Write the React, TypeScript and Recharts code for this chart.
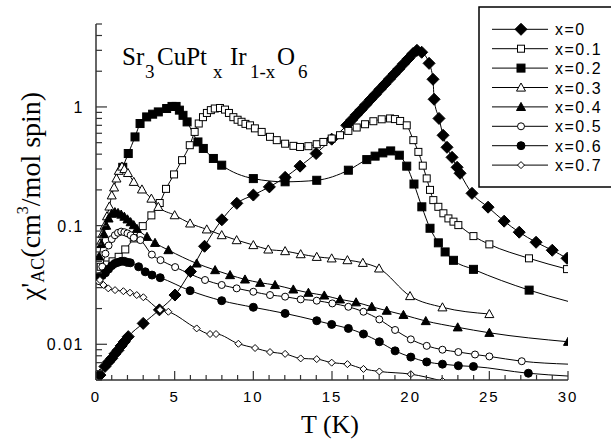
import React from "react";
import { LineChart, Line, XAxis, YAxis } from "recharts";

const W = 611;
const H = 445;
const PLOT = { left: 96, right: 568, top: 24, bottom: 380 };
const AXIS = "#333";
const SANS = "'Liberation Sans', Arial, sans-serif";
const SERIF = "'Liberation Serif', 'Times New Roman', serif";

// x = 0
const t0 = [0.25, 0.57, 0.8, 1.0, 1.2, 1.4, 1.6, 1.8, 2.05, 3.0, 4.03, 5.02, 6.0, 6.9, 8.0, 8.95, 10.0, 11.02, 12.02, 12.97, 13.99, 14.98, 15.94, 16.25, 16.55, 16.85, 17.15, 17.45, 17.75, 18.05, 18.35, 18.65, 18.95, 19.25, 19.55, 19.85, 20.15, 20.4, 20.7, 21.17, 21.42, 21.49, 21.8, 22.06, 22.31, 22.63, 22.95, 23.14, 23.9, 24.92, 25.94, 26.9, 27.97, 29.0, 29.94];
const chi0 = [0.0055, 0.0065, 0.0071, 0.0076, 0.0083, 0.0089, 0.0097, 0.0105, 0.0116, 0.015, 0.0195, 0.026, 0.041, 0.067, 0.112, 0.154, 0.181, 0.212, 0.255, 0.317, 0.405, 0.535, 0.70, 0.777, 0.858, 0.947, 1.046, 1.155, 1.275, 1.408, 1.554, 1.716, 1.895, 2.093, 2.311, 2.551, 2.817, 3.0, 2.89, 2.33, 1.71, 1.16, 0.80, 0.577, 0.457, 0.376, 0.31, 0.276, 0.187, 0.143, 0.109, 0.088, 0.0724, 0.062, 0.053];

// x = 0.1
const t1 = [0.3, 0.7, 1.05, 1.44, 1.86, 2.4, 2.97, 3.52, 4.05, 4.45, 4.96, 5.47, 5.96, 6.27, 6.53, 6.8, 7.05, 7.3, 7.55, 7.88, 8.2, 8.45, 8.73, 9.0, 9.25, 9.5, 9.79, 10.1, 10.53, 11.06, 11.49, 12.02, 12.55, 12.97, 13.5, 14.03, 14.45, 14.98, 15.51, 16.04, 16.57, 17.1, 17.63, 18.16, 18.69, 19.0, 19.33, 19.75, 20.17, 20.49, 20.77, 21.02, 21.23, 21.44, 21.76, 22.08, 22.4, 22.72, 23.03, 23.99, 25.0, 27.52, 29.94];
const chi1 = [0.045, 0.047, 0.05, 0.0546, 0.063, 0.078, 0.099, 0.122, 0.155, 0.204, 0.27, 0.356, 0.476, 0.616, 0.725, 0.82, 0.89, 0.94, 0.97, 0.98, 0.95, 0.89, 0.82, 0.78, 0.75, 0.72, 0.70, 0.66, 0.616, 0.56, 0.525, 0.49, 0.47, 0.46, 0.467, 0.485, 0.507, 0.542, 0.578, 0.628, 0.671, 0.715, 0.758, 0.787, 0.80, 0.79, 0.762, 0.70, 0.525, 0.418, 0.32, 0.25, 0.20, 0.164, 0.144, 0.127, 0.115, 0.108, 0.101, 0.0816, 0.0695, 0.053, 0.043];

// x = 0.2
const t2 = [1.7, 2.05, 2.48, 2.8, 3.22, 3.6, 3.96, 4.49, 4.83, 5.09, 5.3, 5.53, 5.79, 6.48, 6.82, 7.46, 7.99, 10.0, 12.02, 14.03, 16.04, 17.21, 17.74, 18.23, 18.73, 19.28, 19.75, 20.21, 20.71, 21.23, 21.76, 22.19, 22.72, 23.99, 27.53, 30];
const chi2 = [0.31, 0.405, 0.559, 0.725, 0.824, 0.869, 0.908, 0.97, 1.01, 1.01, 0.94, 0.85, 0.748, 0.507, 0.447, 0.368, 0.323, 0.249, 0.234, 0.241, 0.293, 0.36, 0.385, 0.41, 0.426, 0.392, 0.317, 0.224, 0.144, 0.095, 0.0716, 0.06, 0.051, 0.0428, 0.0286, 0.023];

// x = 0.3
const t3 = [0.25, 0.4, 0.55, 0.7, 0.85, 1.0, 1.15, 1.3, 1.45, 1.65, 1.8, 2.03, 2.4, 2.92, 3.52, 3.96, 5.0, 5.98, 7.04, 7.99, 8.94, 10.0, 10.95, 12.02, 13.01, 14.03, 14.98, 15.98, 16.96, 17.99, 19.96, 22.02, 25.0];
const chi3 = [0.071, 0.085, 0.10, 0.12, 0.145, 0.18, 0.21, 0.25, 0.29, 0.315, 0.30, 0.278, 0.234, 0.202, 0.169, 0.144, 0.1225, 0.1044, 0.093, 0.0832, 0.0755, 0.0686, 0.063, 0.061, 0.0575, 0.0546, 0.053, 0.0512, 0.0486, 0.0436, 0.0255, 0.0205, 0.018];

// x = 0.4
const t4 = [0.2, 0.35, 0.5, 0.65, 0.8, 1.0, 1.2, 1.4, 1.6, 1.8, 2.0, 2.2, 2.4, 2.6, 3.24, 3.75, 4.6, 6.4, 7.57, 8.52, 9.47, 10.43, 11.38, 12.54, 13.5, 14.51, 15.51, 16.53, 17.53, 18.48, 19.54, 20.96, 22.99, 25.0, 30.0];
const chi4 = [0.055, 0.07, 0.085, 0.10, 0.115, 0.126, 0.13, 0.128, 0.124, 0.119, 0.113, 0.107, 0.101, 0.094, 0.0805, 0.0716, 0.0622, 0.048, 0.0422, 0.0383, 0.0352, 0.033, 0.0316, 0.029, 0.0272, 0.0258, 0.0239, 0.0226, 0.0207, 0.0192, 0.0177, 0.0157, 0.0139, 0.0125, 0.0105];

// x = 0.5
const t5 = [0.2, 0.4, 0.6, 0.8, 1.0, 1.2, 1.4, 1.6, 1.8, 2.0, 2.2, 2.4, 2.82, 3.55, 4.1, 5.03, 6.93, 7.99, 8.94, 10.0, 11.06, 12.02, 13.01, 14.03, 15.02, 16.04, 17.0, 18.01, 19.01, 20.01, 21.02, 22.02, 23.03, 24.09, 25.0, 27.06, 30];
const chi5 = [0.034, 0.045, 0.058, 0.068, 0.077, 0.083, 0.087, 0.089, 0.088, 0.086, 0.083, 0.079, 0.0755, 0.057, 0.0512, 0.0447, 0.0348, 0.0316, 0.0296, 0.0277, 0.026, 0.0252, 0.0239, 0.0233, 0.0221, 0.0207, 0.0188, 0.0162, 0.0132, 0.011, 0.0097, 0.009, 0.0086, 0.0082, 0.0079, 0.0072, 0.0068];

// x = 0.6
const t6 = [0.2, 0.4, 0.6, 0.8, 1.0, 1.2, 1.4, 1.6, 1.8, 2.0, 2.18, 2.71, 3.13, 3.56, 4.08, 5.98, 7.99, 10.0, 12.02, 14.03, 14.98, 16.04, 17.0, 18.01, 19.01, 20.01, 21.02, 22.02, 23.03, 23.99, 27.48, 30];
const chi6 = [0.037, 0.038, 0.040, 0.043, 0.046, 0.048, 0.049, 0.050, 0.050, 0.049, 0.0486, 0.045, 0.0408, 0.0383, 0.0364, 0.0283, 0.0233, 0.0205, 0.0182, 0.0158, 0.0147, 0.0136, 0.0122, 0.0105, 0.0088, 0.0078, 0.0071, 0.0068, 0.0066, 0.0065, 0.0057, 0.0054];

// x = 0.7
const t7 = [0.25, 0.47, 0.78, 1.21, 1.74, 2.16, 2.59, 3.01, 4.07, 4.6, 6.4, 7.25, 7.63, 9.05, 10.11, 11.06, 12.02, 13.01, 14.03, 14.98, 15.98, 17.0, 18.01, 20.01, 22.02];
const chi7 = [0.0348, 0.0316, 0.0296, 0.0286, 0.028, 0.0272, 0.026, 0.0249, 0.0195, 0.0188, 0.0136, 0.0122, 0.0122, 0.0101, 0.0093, 0.0086, 0.0083, 0.0076, 0.0075, 0.007, 0.0068, 0.0062, 0.0059, 0.0056, 0.0049];

const legendLabels = ["x=0", "x=0.1", "x=0.2", "x=0.3", "x=0.4", "x=0.5", "x=0.6", "x=0.7"];

const xTicks = [0, 1, 2, 3, 4, 5, 6, 7, 8, 9, 10, 11, 12, 13, 14, 15, 16, 17, 18, 19, 20, 21, 22, 23, 24, 25, 26, 27, 28, 29, 30];
const xTickLabels = [0, 5, 10, 15, 20, 25, 30];
const yTicks = [0.005, 0.006, 0.007, 0.008, 0.009, 0.01, 0.02, 0.03, 0.04, 0.05, 0.06, 0.07, 0.08, 0.09, 0.1, 0.2, 0.3, 0.4, 0.5, 0.6, 0.7, 0.8, 0.9, 1, 2, 3, 4, 5];
const yTickLabels = [0.01, 0.1, 1];

type Shape = "diamond" | "square" | "triangle" | "circle" | "smallDiamond";

const series: { label: string; t: number[]; chi: number[]; shape: Shape; filled: boolean; tailOnly: boolean }[] = [
  { label: legendLabels[0], t: t0, chi: chi0, shape: "diamond", filled: true, tailOnly: false },
  { label: legendLabels[1], t: t1, chi: chi1, shape: "square", filled: false, tailOnly: false },
  { label: legendLabels[2], t: t2, chi: chi2, shape: "square", filled: true, tailOnly: true },
  { label: legendLabels[3], t: t3, chi: chi3, shape: "triangle", filled: false, tailOnly: false },
  { label: legendLabels[4], t: t4, chi: chi4, shape: "triangle", filled: true, tailOnly: false },
  { label: legendLabels[5], t: t5, chi: chi5, shape: "circle", filled: false, tailOnly: true },
  { label: legendLabels[6], t: t6, chi: chi6, shape: "circle", filled: true, tailOnly: true },
  { label: legendLabels[7], t: t7, chi: chi7, shape: "smallDiamond", filled: false, tailOnly: false },
];

const Marker = ({ cx, cy, shape, filled }: { cx: number; cy: number; shape: Shape; filled: boolean }) => {
  const fill = filled ? "#000" : "#fff";
  const common = { fill, stroke: "#000", strokeWidth: 1 };
  if (shape === "diamond") {
    const r = 6;
    return <polygon points={`${cx},${cy - r} ${cx + r},${cy} ${cx},${cy + r} ${cx - r},${cy}`} {...common} />;
  }
  if (shape === "smallDiamond") {
    const r = 3.5;
    return <polygon points={`${cx},${cy - r} ${cx + r},${cy} ${cx},${cy + r} ${cx - r},${cy}`} {...common} />;
  }
  if (shape === "square") {
    const h = filled ? 4 : 3.5;
    return <rect x={cx - h} y={cy - h} width={2 * h} height={2 * h} {...common} />;
  }
  if (shape === "triangle") {
    const h = 4.5;
    return <polygon points={`${cx},${cy - h} ${cx + h},${cy + h * 0.8} ${cx - h},${cy + h * 0.8}`} {...common} />;
  }
  return <circle cx={cx} cy={cy} r={filled ? 4 : 3.5} {...common} />;
};

const XTickBottom = (p: any) => {
  const v = p.payload.value;
  const major = xTickLabels.includes(v);
  return (
    <g>
      <line x1={p.x} x2={p.x} y1={PLOT.bottom} y2={PLOT.bottom - (major ? 9 : 5)} stroke={AXIS} strokeWidth={1.2} />
      {major && (
        <text x={p.x} y={PLOT.bottom + 22} textAnchor="middle" fontFamily={SANS} fontSize={15} letterSpacing={2} fill="#000">
          {v}
        </text>
      )}
    </g>
  );
};

const XTickTop = (p: any) => {
  const major = xTickLabels.includes(p.payload.value);
  return <line x1={p.x} x2={p.x} y1={PLOT.top} y2={PLOT.top + (major ? 9 : 5)} stroke={AXIS} strokeWidth={1.2} />;
};

const YTickLeft = (p: any) => {
  const v = p.payload.value;
  const major = yTickLabels.includes(v);
  return (
    <g>
      <line x1={PLOT.left} x2={PLOT.left + (major ? 11 : 6)} y1={p.y} y2={p.y} stroke={AXIS} strokeWidth={1.2} />
      {major && (
        <text x={PLOT.left - 12} y={p.y + 6} textAnchor="end" fontFamily={SANS} fontSize={16} letterSpacing={1.5} fill="#000">
          {String(v)}
        </text>
      )}
    </g>
  );
};

const YTickRight = (p: any) => {
  const major = yTickLabels.includes(p.payload.value);
  return <line x1={PLOT.right} x2={PLOT.right - (major ? 11 : 6)} y1={p.y} y2={p.y} stroke={AXIS} strokeWidth={1.2} />;
};

const legendTop = 29.3;
const legendStep = 19.4;

const App = () => {
  return (
    <div style={{ position: "absolute", left: 0, top: 0, width: W, height: H, overflow: "hidden", background: "#fff" }}>
      <LineChart width={W} height={H} margin={{ top: PLOT.top, right: W - PLOT.right, bottom: 35, left: 0 }}>
        <XAxis
          xAxisId="bottom"
          type="number"
          dataKey="T"
          domain={[0, 30]}
          allowDataOverflow
          ticks={xTicks}
          interval={0}
          tickLine={false}
          tick={XTickBottom}
          height={30}
          axisLine={{ stroke: AXIS, strokeWidth: 1.5 }}
        />
        <XAxis
          xAxisId="top"
          orientation="top"
          type="number"
          domain={[0, 30]}
          allowDataOverflow
          ticks={xTicks}
          interval={0}
          tickLine={false}
          tick={XTickTop}
          height={0}
          axisLine={{ stroke: AXIS, strokeWidth: 1.5 }}
        />
        <YAxis
          yAxisId="left"
          scale="log"
          type="number"
          domain={[0.005, 5]}
          allowDataOverflow
          ticks={yTicks}
          interval={0}
          tickLine={false}
          tick={YTickLeft}
          width={PLOT.left}
          axisLine={{ stroke: AXIS, strokeWidth: 1.5 }}
        />
        <YAxis
          yAxisId="right"
          orientation="right"
          scale="log"
          type="number"
          domain={[0.005, 5]}
          allowDataOverflow
          ticks={yTicks}
          interval={0}
          tickLine={false}
          tick={YTickRight}
          width={0}
          axisLine={{ stroke: AXIS, strokeWidth: 1.5 }}
        />
        {series.map((s) => (
          <Line
            key={s.label}
            xAxisId="bottom"
            yAxisId="left"
            data={s.t.map((T, i) => ({ T, chi: s.chi[i] }))}
            dataKey="chi"
            name={s.label}
            type="monotone"
            stroke="#000"
            strokeWidth={1}
            isAnimationActive={false}
            dot={(p: any) => {
              const k = `${s.label}-${p.index}`;
              if ((s.tailOnly && p.index === s.t.length - 1) || p.cx == null) return <g key={k} />;
              return <Marker key={k} cx={p.cx} cy={p.cy} shape={s.shape} filled={s.filled} />;
            }}
            activeDot={false}
          />
        ))}
      </LineChart>
      <svg width={W} height={H} style={{ position: "absolute", left: 0, top: 0, pointerEvents: "none" }}>
        <text fontFamily={SERIF} fontSize={25} fill="#000">
          <tspan x={122} y={65}>Sr</tspan>
          <tspan x={145} y={78} fontSize={19}>3</tspan>
          <tspan x={157} y={65}>CuPt</tspan>
          <tspan x={213} y={78} fontSize={19}>x</tspan>
          <tspan x={230} y={65}>Ir</tspan>
          <tspan x={250} y={78} fontSize={19}>1-x</tspan>
          <tspan x={277} y={65}>O</tspan>
          <tspan x={298} y={78} fontSize={19}>6</tspan>
        </text>
        <text x={330} y={433} textAnchor="middle" fontFamily={SERIF} fontSize={26} fill="#000">
          T (K)
        </text>
        <g transform="translate(40 196) rotate(-90)">
          <text x={0} y={0} textAnchor="middle" fontFamily={SERIF} fontSize={28} fill="#000">
            χ'
            <tspan fontSize={18} dy={4}>AC</tspan>
            <tspan dy={-4}>(cm</tspan>
            <tspan fontSize={16} dy={-12}>3</tspan>
            <tspan dy={12}>/mol spin)</tspan>
          </text>
        </g>
        <rect x={479} y={7} width={140} height={180} fill="#fff" stroke="#000" strokeWidth={1.5} />
        {series.map((s, i) => {
          const y = legendTop + i * legendStep;
          return (
            <g key={s.label}>
              <line x1={492} x2={548} y1={y} y2={y} stroke="#000" strokeWidth={1} />
              <Marker cx={521} cy={y} shape={s.shape} filled={s.filled} />
              <text x={555} y={y + 6} fontFamily={SANS} fontSize={16} letterSpacing={1.5} fill="#000">
                {s.label}
              </text>
            </g>
          );
        })}
      </svg>
    </div>
  );
};

export default App;
